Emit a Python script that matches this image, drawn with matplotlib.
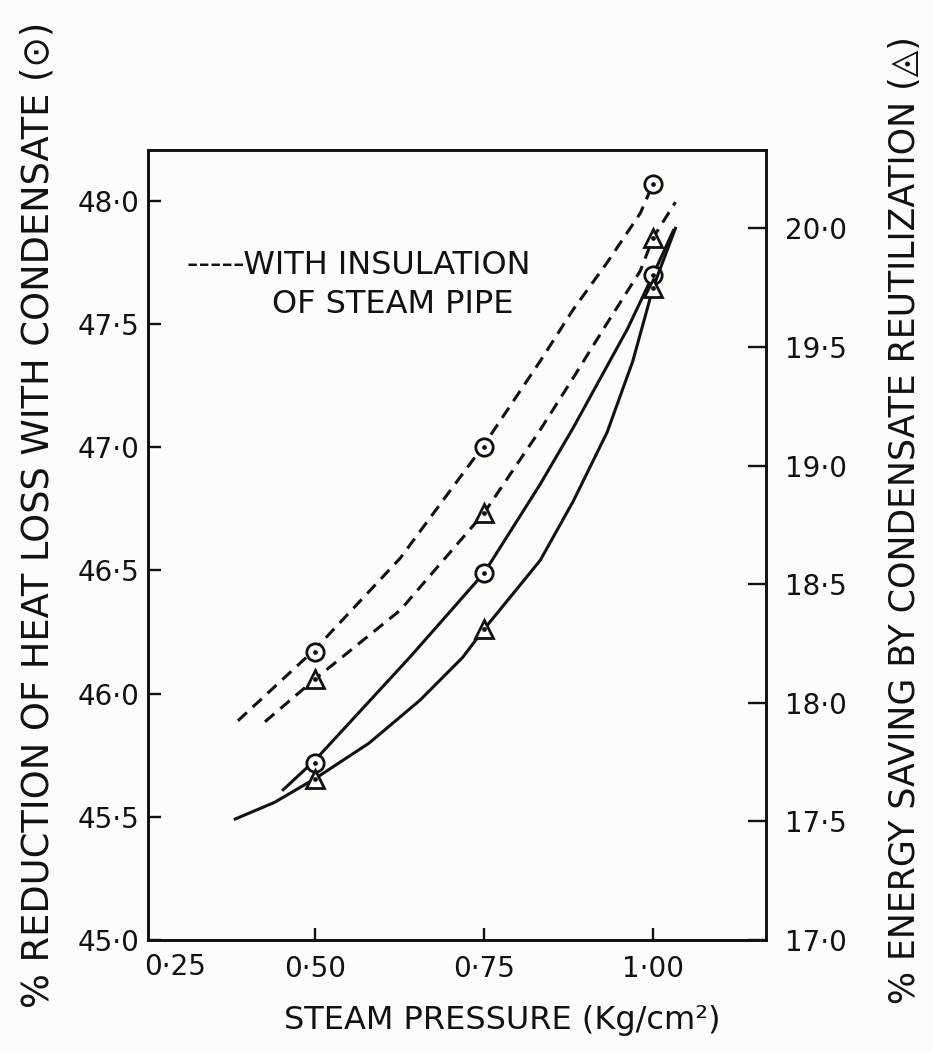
import matplotlib.pyplot as plt

plt.rcParams['font.family'] = ['DejaVu Sans']

# measured points (left axis: heat loss reduction, right axis: energy saving)
pressure = [0.50, 0.75, 1.00]
loss_insulated = [46.17, 47.00, 48.07]
loss_bare = [45.72, 46.49, 47.70]
saving_insulated = [18.10, 18.80, 19.96]
saving_bare = [17.68, 18.31, 19.75]

# hand-fitted curves through the points
cx_loss_ins = [0.386, 0.500, 0.626, 0.750, 0.833, 0.882, 0.932, 0.981, 1.000]
cy_loss_ins = [45.89, 46.18, 46.55, 47.01, 47.35, 47.56, 47.75, 47.95, 48.07]
cx_sav_ins = [0.426, 0.500, 0.626, 0.750, 0.833, 0.882, 0.932, 0.981, 1.000, 1.033]
cy_sav_ins = [17.92, 18.10, 18.39, 18.80, 19.15, 19.37, 19.60, 19.82, 19.96, 20.11]
cx_loss_bare = [0.453, 0.500, 0.641, 0.750, 0.833, 0.882, 0.932, 0.962, 1.000, 1.030]
cy_loss_bare = [45.61, 45.73, 46.15, 46.49, 46.85, 47.08, 47.33, 47.48, 47.70, 47.88]
cx_sav_bare = [0.382, 0.440, 0.500, 0.580, 0.655, 0.718, 0.750, 0.833, 0.882,
               0.932, 0.970, 1.000, 1.033]
cy_sav_bare = [17.51, 17.58, 17.68, 17.83, 18.01, 18.19, 18.31, 18.60, 18.85,
               19.14, 19.44, 19.75, 20.00]

x_ticks = [0.50, 0.75, 1.00]
x_ticklabels = ['0·50', '0·75', '1·00']
left_ticks = [45.0, 45.5, 46.0, 46.5, 47.0, 47.5, 48.0]
right_ticks = [17.0, 17.5, 18.0, 18.5, 19.0, 19.5, 20.0]

ink = '#111111'
lw = 2.2
dash = (0, (4, 2.6))

fig = plt.figure(figsize=(9.33, 10.51), dpi=100)
fig.patch.set_facecolor('#fdfcf9')
ax = fig.add_axes([148 / 933, 111 / 1051, 618 / 933, 790 / 1051])
ax2 = ax.twinx()
ax.set_facecolor('none')

ax.set_xlim(0.253, 1.167)
ax.set_ylim(45.0, 48.207)
ax2.set_ylim(17.0, 20.33)

# curves
ax.plot(cx_loss_ins, cy_loss_ins, color=ink, lw=lw, linestyle=dash, zorder=2)
ax.plot(cx_loss_bare, cy_loss_bare, color=ink, lw=lw, zorder=2)
ax2.plot(cx_sav_ins, cy_sav_ins, color=ink, lw=lw, linestyle=dash, zorder=2)
ax2.plot(cx_sav_bare, cy_sav_bare, color=ink, lw=lw, zorder=2)

# markers with centre dots
for axis, ys, m in [(ax, loss_insulated, 'o'), (ax, loss_bare, 'o'),
                    (ax2, saving_insulated, '^'), (ax2, saving_bare, '^')]:
    axis.plot(pressure, ys, linestyle='none', marker=m, ms=12.5, mfc='white',
              mec=ink, mew=2.0, zorder=3)
    axis.plot(pressure, ys, linestyle='none', marker='o', ms=2.4, color=ink, zorder=4)

# spines and ticks
for a in (ax, ax2):
    for s in a.spines.values():
        s.set_linewidth(1.9)
        s.set_color(ink)

ax.set_xticks(x_ticks)
ax.set_xticklabels(x_ticklabels)
ax.set_yticks(left_ticks)
ax.set_yticklabels([f'{v:.1f}'.replace('.', '·') for v in left_ticks])
ax2.set_yticks(right_ticks)
ax2.set_yticklabels([f'{v:.1f}'.replace('.', '·') for v in right_ticks])

ax.tick_params(axis='x', direction='in', length=9, width=1.7, pad=11,
               labelsize=20, colors=ink)
ax.tick_params(axis='y', direction='in', length=9, width=1.7, pad=6,
               labelsize=20, colors=ink)
ax2.tick_params(axis='y', direction='in', length=13, width=1.7, pad=14,
                labelsize=20, colors=ink)

# 0.25 label sits offset from the corner
ax.text(0.293, -0.034, '0·25', transform=ax.get_xaxis_transform(),
        ha='center', va='center', fontsize=20, color=ink)

# legend note
ax.text(0.311, 47.74, '-----WITH INSULATION', fontsize=23, color=ink,
        ha='left', va='center')
ax.text(0.436, 47.58, 'OF STEAM PIPE', fontsize=23, color=ink,
        ha='left', va='center')

# axis titles
fig.text(502 / 933, 1 - 1020 / 1051, 'STEAM PRESSURE (Kg/cm²)',
         ha='center', va='center', fontsize=23, color=ink)
fig.text(38 / 933, 1 - 515 / 1051, '% REDUCTION OF HEAT LOSS WITH CONDENSATE (⊙)',
         rotation=90, ha='center', va='center', fontsize=26.5, color=ink)
fig.text(905 / 933, 1 - 520 / 1051, '% ENERGY SAVING BY CONDENSATE REUTILIZATION (◬)',
         rotation=90, ha='center', va='center', fontsize=25, color=ink)

fig.savefig('out.png', dpi=100, facecolor=fig.get_facecolor())
